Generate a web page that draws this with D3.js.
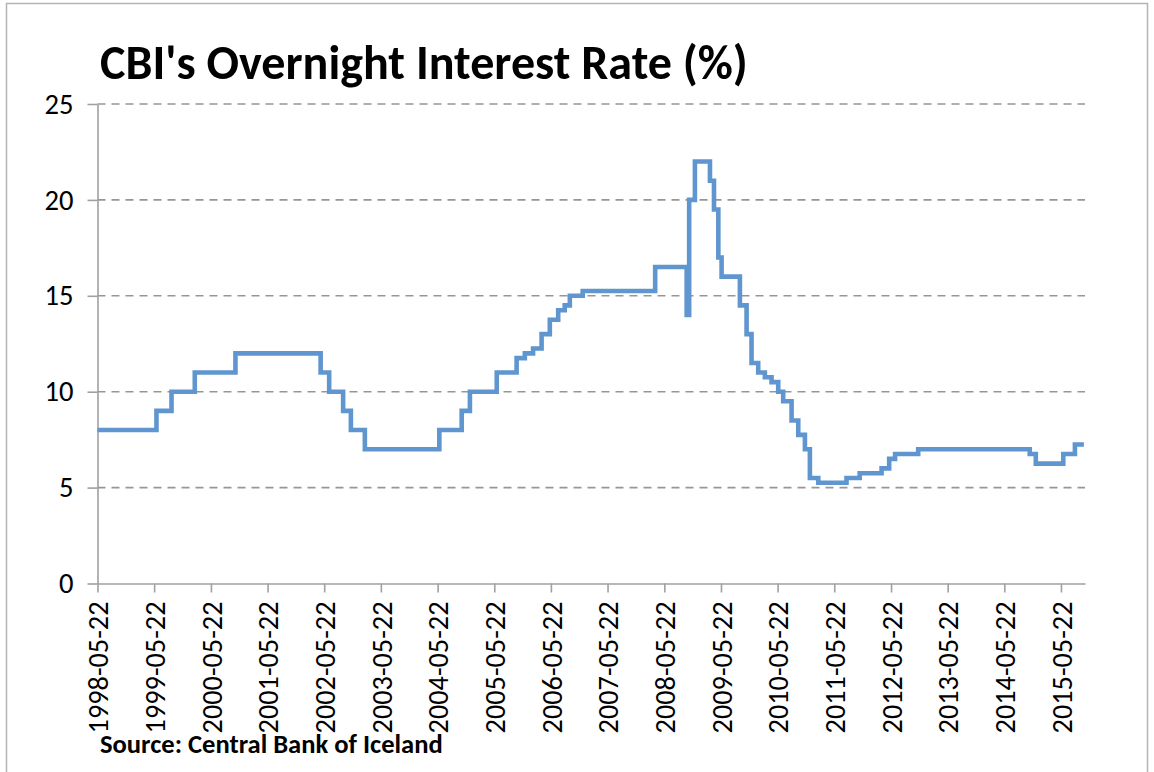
<!DOCTYPE html>
<html>
<head>
<meta charset="utf-8">
<script src="https://cdn.jsdelivr.net/npm/d3@7"></script>
<style>
  body { margin: 0; background: #fff; }
  svg text { font-family: Carlito, Calibri, Lato, "Open Sans", sans-serif; fill: #000; }
</style>
</head>
<body>
<script>
// step dates (rate in force from that day on) and the rate
var rate_dates = ["1998-05-22", "1999-06-06", "1999-09-11", "2000-02-08", "2000-10-27",
                  "2002-04-29", "2002-06-23", "2002-09-21", "2002-11-10", "2003-02-08",
                  "2004-06-02", "2004-10-24", "2004-12-16", "2005-06-07", "2005-10-13",
                  "2005-12-05", "2006-01-27", "2006-03-23", "2006-05-15", "2006-07-08",
                  "2006-08-19", "2006-09-21", "2006-12-13", "2008-03-24", "2008-10-13",
                  "2008-10-29", "2008-12-05", "2009-03-12", "2009-04-07", "2009-05-05",
                  "2009-05-26", "2009-09-21", "2009-11-03", "2009-12-05", "2010-01-17",
                  "2010-03-01", "2010-04-13", "2010-05-26", "2010-06-27", "2010-08-20",
                  "2010-10-02", "2010-11-14", "2010-12-16", "2011-02-08", "2011-08-09",
                  "2011-11-02", "2012-03-22", "2012-05-10", "2012-06-17", "2012-11-13",
                  "2014-11-02", "2014-12-11", "2015-06-06", "2015-08-20", "2015-10-17"];
var rate_values = [8, 9, 10, 11, 12,
                   11, 10, 9, 8, 7,
                   8, 9, 10, 11, 11.75,
                   12, 12.25, 13, 13.75, 14.25,
                   14.5, 15, 15.25, 16.5, 14,
                   20, 22, 21, 19.5, 17,
                   16, 14.5, 13, 11.5, 11,
                   10.75, 10.5, 10, 9.5, 8.5,
                   7.75, 7, 5.5, 5.25, 5.5,
                   5.75, 6, 6.5, 6.75, 7,
                   6.75, 6.25, 6.75, 7.25, 7.25];

var tick_labels = ["1998-05-22", "1999-05-22", "2000-05-22", "2001-05-22", "2002-05-22",
                   "2003-05-22", "2004-05-22", "2005-05-22", "2006-05-22", "2007-05-22",
                   "2008-05-22", "2009-05-22", "2010-05-22", "2011-05-22", "2012-05-22",
                   "2013-05-22", "2014-05-22", "2015-05-22"];
var y_ticks  = [0, 5, 10, 15, 20, 25];
var axis_end = "2015-10-24";

var title_text  = "CBI's Overnight Interest Rate (%)";
var source_text = "Source: Central Bank of Iceland";

var parse = d3.timeParse("%Y-%m-%d");
var grey  = "#a0a0a0";
var blue  = "#5f96cf";

var svg = d3.select("body").append("svg")
                           .attr("width", 1154)
                           .attr("height", 772);

svg.append("rect")
   .attr("x", 6.5).attr("y", 3.5)
   .attr("width", 1141).attr("height", 790)
   .style("fill", "none")
   .style("stroke", "#b4b4b4")
   .style("stroke-width", 1.5);

var x = d3.scaleTime()
          .domain([parse(tick_labels[0]), parse(axis_end)])
          .range([97.5, 1085]);
var y = d3.scaleLinear()
          .domain([0, 25])
          .range([583.5, 104]);

// dashed gridlines
svg.selectAll("line.grid")
   .data(y_ticks.slice(1))
   .enter()
   .append("line")
   .attr("class", "grid")
   .attr("x1", x.range()[0]).attr("x2", x.range()[1])
   .attr("y1", function(d) { return y(d); })
   .attr("y2", function(d) { return y(d); })
   .style("stroke", "#969696")
   .style("stroke-width", 1.6)
   .style("stroke-dasharray", "8,6");

// y axis
var y_axis = svg.append("g")
                .attr("transform", "translate(" + x.range()[0] + ",0)")
                .call(d3.axisLeft(y).tickValues(y_ticks).tickSize(10).tickSizeOuter(0).tickPadding(14));

// x axis
var x_axis = svg.append("g")
                .attr("transform", "translate(0," + y.range()[0] + ")")
                .call(d3.axisBottom(x)
                        .tickValues(tick_labels.map(parse))
                        .tickFormat(d3.timeFormat("%Y-%m-%d"))
                        .tickSize(9)
                        .tickSizeOuter(0));

[y_axis, x_axis].forEach(function(g) {
    g.select(".domain").style("stroke", grey).style("stroke-width", 1.6);
    g.selectAll(".tick line").style("stroke", grey).style("stroke-width", 1.6);
    g.selectAll("text").style("fill", "#000");
    g.attr("font-family", null);
});

x_axis.selectAll(".tick text")
      .attr("transform", "rotate(-90)")
      .attr("text-anchor", "end")
      .attr("x", -18)
      .attr("y", 0)
      .attr("dy", "0.36em");

// the rate line
var line = d3.line()
             .curve(d3.curveStepAfter)
             .x(function(d, i) { return x(parse(rate_dates[i])); })
             .y(function(d) { return y(d); });

svg.append("path")
   .datum(rate_values)
   .attr("d", line)
   .style("fill", "none")
   .style("stroke", blue)
   .style("stroke-width", 4.6);

var title = svg.append("text")
               .attr("x", 100).attr("y", 79)
               .style("font-weight", "bold")
               .style("font-size", "40px")
               .text(title_text);

var source = svg.append("text")
                .attr("x", 100).attr("y", 753)
                .style("font-weight", "bold")
                .style("font-size", "24px")
                .text(source_text);

// scale font sizes so the text spans match the original
function fit_font(sel, target) {
    var size = parseFloat(sel.style("font-size"));
    var w = sel.node().getComputedTextLength();
    return size * target / w;
}

title.style("font-size", fit_font(title, 648) + "px");
source.style("font-size", fit_font(source, 343) + "px");

var xt = x_axis.selectAll(".tick text").style("font-size", "20px");
var x_size = fit_font(d3.select(xt.node()), 132);
xt.style("font-size", x_size + "px");

var yt = y_axis.selectAll(".tick text").style("font-size", "20px");
var y_size = fit_font(d3.select(yt.nodes()[5]), 29);
yt.style("font-size", y_size + "px");
</script>
</body>
</html>
